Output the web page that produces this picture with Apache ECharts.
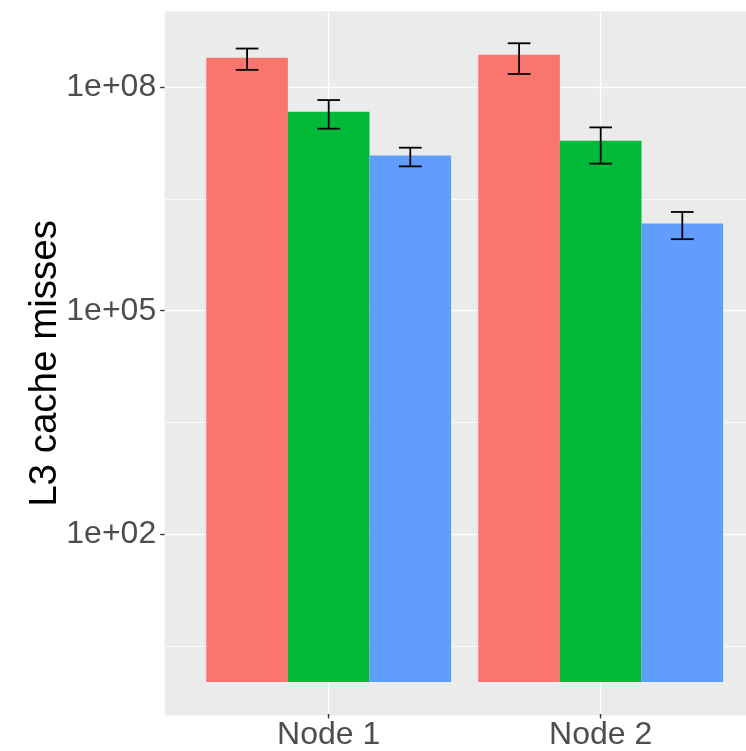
<!DOCTYPE html>
<html>
<head>
<meta charset="utf-8">
<script src="https://cdn.jsdelivr.net/npm/echarts@6/dist/echarts.min.js"></script>
<style>
  html, body { margin: 0; padding: 0; background: #ffffff; }
  #chart { width: 746px; height: 751px; }
</style>
</head>
<body>
<div id="chart"></div>
<script>
// Categories on the x axis
const nodes = ['Node 1', 'Node 2'];

// Mean L3 cache misses per node, with error-bar bounds
const redMean  = [2.45e8, 2.69e8];
const redLow   = [1.69e8, 1.49e8];
const redHigh  = [3.27e8, 3.85e8];

const greenMean = [4.63e7, 1.89e7];
const greenLow  = [2.74e7, 9.29e6];
const greenHigh = [6.64e7, 2.85e7];

const blueMean = [1.19e7, 1.46e6];
const blueLow  = [8.53e6, 8.96e5];
const blueHigh = [1.52e7, 2.08e6];

// Log-axis ticks: labelled breaks and the in-between minor breaks
const majorTicks = [1e2, 1e5, 1e8];
const minorTicks = [Math.pow(10, 0.5), Math.pow(10, 3.5), Math.pow(10, 6.5)];

// Panel range of the log axis
const Y_MIN = Math.pow(10, -0.429);
const Y_MAX = Math.pow(10, 9.015);

const FONT = '"Liberation Sans", Arial, Helvetica, sans-serif';
const COLORS = ['#F8766D', '#00BA38', '#619CFF'];

const groups = [
  { mean: redMean,   low: redLow,   high: redHigh },
  { mean: greenMean, low: greenLow, high: greenHigh },
  { mean: blueMean,  low: blueLow,  high: blueHigh }
];

const sciLabel = v => {
  const e = Math.round(Math.log10(v));
  return '1e' + (e < 0 ? '-' : '+') + String(Math.abs(e)).padStart(2, '0');
};

const TOP = 11.3, BOTTOM = 35.4;

const chart = echarts.init(document.getElementById('chart'), null, { renderer: 'canvas' });

const series = [];

// Horizontal grid lines across the whole panel
series.push({
  type: 'line',
  xAxisIndex: 0, yAxisIndex: 0,
  data: [],
  silent: true,
  markLine: {
    z: 1,
    silent: true,
    symbol: 'none',
    animation: false,
    label: { show: false },
    lineStyle: { color: '#ffffff', type: 'solid' },
    data: [
      ...majorTicks.map(v => ({ yAxis: v, lineStyle: { width: 1.4, color: '#ffffff', type: 'solid' } })),
      ...minorTicks.map(v => ({ yAxis: v, lineStyle: { width: 0.8, color: '#ffffff', type: 'solid' } }))
    ]
  }
});

// Vertical grid lines at each node
series.push({
  type: 'line',
  xAxisIndex: 1, yAxisIndex: 1,
  data: [],
  silent: true,
  markLine: {
    z: 1,
    silent: true,
    symbol: 'none',
    animation: false,
    label: { show: false },
    lineStyle: { color: '#ffffff', width: 1.4, type: 'solid' },
    data: nodes.map(n => ({ xAxis: n }))
  }
});

// Bars
groups.forEach((g, k) => {
  series.push({
    type: 'bar',
    xAxisIndex: 1, yAxisIndex: 1,
    z: 2,
    barGap: '0%',
    barCategoryGap: '10%',
    itemStyle: { color: COLORS[k] },
    data: g.mean,
    animation: false
  });
});

// Error bars, dodged to sit on their bars
groups.forEach((g, k) => {
  series.push({
    type: 'custom',
    xAxisIndex: 1, yAxisIndex: 1,
    z: 3,
    animation: false,
    encode: { x: 0, y: [1, 2] },
    data: nodes.map((_, i) => [i, g.low[i], g.high[i]]),
    renderItem: (params, api) => {
      const band = api.size([1, 0])[0];
      const off = (k - 1) * band * 0.3;
      const half = band * 0.0417;
      const hi = api.coord([api.value(0), api.value(2)]);
      const lo = api.coord([api.value(0), api.value(1)]);
      const x = hi[0] + off;
      const style = { stroke: '#000000', lineWidth: 1.8 };
      return {
        type: 'group',
        children: [
          { type: 'line', shape: { x1: x, y1: hi[1], x2: x, y2: lo[1] }, style },
          { type: 'line', shape: { x1: x - half, y1: hi[1], x2: x + half, y2: hi[1] }, style },
          { type: 'line', shape: { x1: x - half, y1: lo[1], x2: x + half, y2: lo[1] }, style }
        ]
      };
    }
  });
});

const option = {
  backgroundColor: '#ffffff',
  animation: false,
  textStyle: { fontFamily: FONT },
  grid: [
    // full panel (background, horizontal grid, y labels)
    { left: 164.7, right: -30, top: TOP, bottom: BOTTOM, show: true,
      backgroundColor: '#EBEBEB', borderWidth: 0, containLabel: false },
    // plotting area for the two node categories
    { left: 192.7, right: 9.3, top: TOP, bottom: BOTTOM, show: false, containLabel: false }
  ],
  xAxis: [
    { type: 'value', gridIndex: 0, min: 0, max: 1, show: false },
    {
      type: 'category', gridIndex: 1, data: nodes,
      axisLine: { show: false },
      axisTick: { show: true, alignWithLabel: true, length: 4.5, lineStyle: { color: '#333333', width: 1.4 } },
      axisLabel: { fontSize: 32, color: '#4D4D4D', margin: 5, fontFamily: FONT },
      splitLine: { show: false }
    }
  ],
  yAxis: [
    {
      type: 'log', logBase: 10, gridIndex: 0, min: Y_MIN, max: Y_MAX,
      axisLine: { show: false },
      splitLine: { show: false },
      minorTick: { show: false },
      axisTick: { show: true, length: 4.5, lineStyle: { color: '#333333', width: 1.4 }, customValues: majorTicks },
      axisLabel: { fontSize: 32, color: '#4D4D4D', margin: 8.5, fontFamily: FONT,
                   customValues: majorTicks, formatter: sciLabel },
      name: 'L3 cache misses',
      nameLocation: 'middle',
      nameRotate: 90,
      nameGap: 100,
      nameMoveOverlap: false,
      nameTextStyle: { fontSize: 38.5, color: '#000000', fontFamily: FONT }
    },
    {
      type: 'log', logBase: 10, gridIndex: 1, min: Y_MIN, max: Y_MAX,
      show: false, splitLine: { show: false }
    }
  ],
  series
};

chart.setOption(option);
</script>
</body>
</html>
